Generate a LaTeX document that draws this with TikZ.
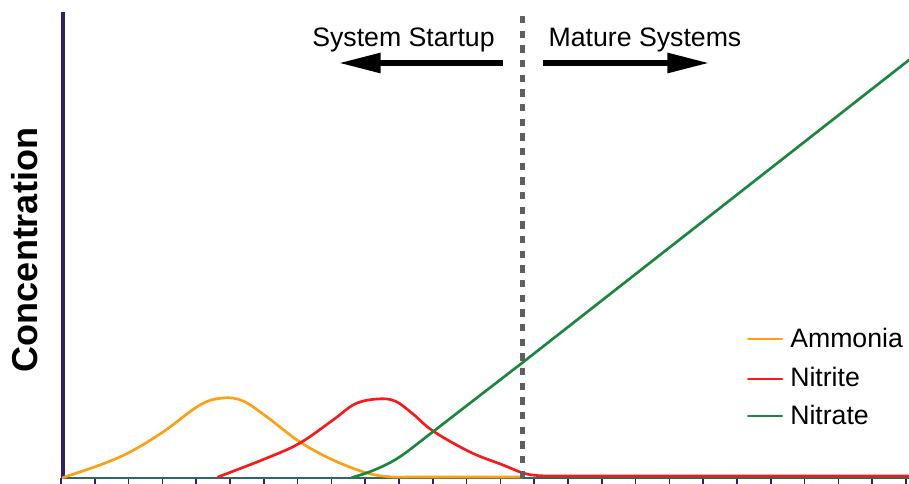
\documentclass[tikz,border=0pt]{standalone}
\usepackage{fontspec}
\setmainfont{Liberation Sans}
\usetikzlibrary{arrows.meta}
\definecolor{axisblue}{RGB}{50,30,110}
\definecolor{axisteal}{RGB}{45,105,100}
\definecolor{ammoniaorange}{RGB}{255,160,20}
\definecolor{nitritered}{RGB}{250,25,25}
\definecolor{nitrategreen}{RGB}{25,135,60}
\definecolor{dashgray}{RGB}{95,95,95}
\tikzset{curve/.style={line width=2pt},
  label/.style={font=\fontsize{20}{24}\selectfont}}

\begin{document}
\begin{tikzpicture}[line cap=round,line join=round,>={Triangle[length=32pt,width=14pt]},x=7.5pt,y=7.5pt]
\useasboundingbox (-6.3,-0.5) rectangle (84.6,47.8);
\foreach \i in {0,...,25}
  \draw [axisblue,line width=1.2pt,line cap=butt] (-0.2+3.38*\i,0)--(-0.2+3.38*\i,-0.6);
\draw [axisteal,line width=1.5pt] (0,0)--(84.6,0);
\draw [axisblue,line width=3pt,line cap=butt] (0,0)--(0,46.6);
\draw [curve,ammoniaorange] plot[smooth,tension=0.6] coordinates {(0,0.05) (3.7,1.3) (6.7,2.6) (10,4.6) (13.7,7.3) (16,8) (18,7.7) (20.4,6.1) (23.7,3.6) (27,1.8) (30.4,0.5) (32.7,0.12) (34.5,0.1)} -- (45.9,0.1);
\draw [curve,nitritered] plot[smooth,tension=0.6] coordinates {(15.5,0.1) (20.4,2) (23.7,3.5) (27,5.8) (29.2,7.4) (31.4,7.9) (33.2,7.7) (35,6.4) (37,4.7) (40.7,2.6) (44,1.3) (46,0.5) (47.4,0.25) (49,0.2)} -- (84.6,0.2);
\draw [curve,nitrategreen] plot[smooth,tension=0.6] coordinates {(28.9,0.05) (31,0.75) (33.5,2.0) (36.7,4.4) (40,6.95) (45.9,11.5)} -- (84.6,41.8);
\draw [dashgray,line width=3.75pt,line cap=butt,dash pattern=on 5.5pt off 5.5pt] (45.9,0)--(45.9,46.3);
\coordinate (startupTail) at (44,41.5);
\coordinate (startupTip) at (27.5,41.5);
\coordinate (matureTail) at (48,41.5);
\coordinate (matureTip) at (64.7,41.5);
\draw [->,line width=5pt,line cap=butt] (startupTail)--(startupTip);
\draw [->,line width=5pt,line cap=butt] (matureTail)--(matureTip);
\node [label,anchor=base] (startup) at (34.05,43.1) {System Startup};
\node [label,anchor=base] (mature) at (58.2,43.1) {Mature Systems};
\foreach \name/\col/\y/\txt in {ammonia/ammoniaorange/13.1/Ammonia,nitrite/nitritered/9.13/Nitrite,nitrate/nitrategreen/5.4/Nitrate}{
  \node [label,anchor=base west,inner sep=0pt] (\name) at (72.7,\y) {\txt};
  \draw [\col,line width=1.5pt] (68.5,\y+0.8)--(71.9,\y+0.8);
}
\node [rotate=90,font=\bfseries\fontsize{27}{30}\selectfont] (ylabel) at (-3.8,22.8) {Concentration};
\end{tikzpicture}
\end{document}
